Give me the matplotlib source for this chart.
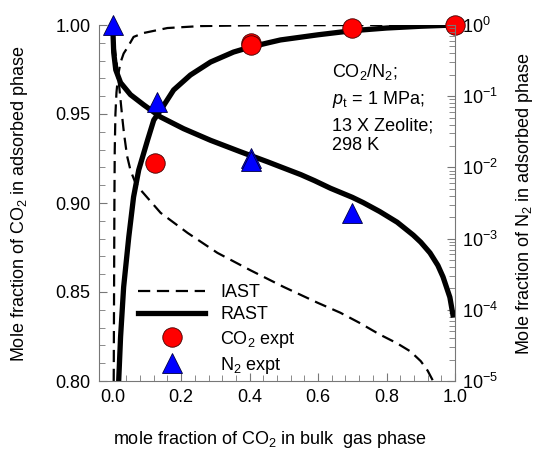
import matplotlib
matplotlib.use('Agg')
import matplotlib.pyplot as plt
from matplotlib.ticker import MultipleLocator, FormatStrFormatter, LogLocator, NullFormatter

plt.rcParams['font.family'] = ['Liberation Sans', 'DejaVu Sans']
plt.rcParams['mathtext.fontset'] = 'custom'
plt.rcParams['mathtext.rm'] = 'Liberation Sans'
plt.rcParams['mathtext.it'] = 'Liberation Sans:italic'
plt.rcParams['font.size'] = 13

# IAST, CO2 in adsorbed phase (left axis)
iast_co2_x = [0.003, 0.004, 0.005, 0.006, 0.008, 0.011, 0.016, 0.023, 0.032, 0.044, 0.061,
              0.09, 0.16, 0.257, 0.4, 0.6, 0.8, 1.0]
iast_co2_y = [0.80, 0.85, 0.90, 0.93, 0.95, 0.962, 0.972, 0.979, 0.984, 0.9876, 0.9933,
              0.9955, 0.9983, 0.9994, 0.9998, 0.9999, 1.0, 1.0]

# RAST, CO2 in adsorbed phase (left axis)
rast_co2_x = [0.0175, 0.023, 0.032, 0.047, 0.061, 0.076, 0.102, 0.120, 0.146, 0.178, 0.227,
              0.286, 0.353, 0.402, 0.452, 0.49, 0.60, 0.70, 0.80, 0.90, 1.0]
rast_co2_y = [0.80, 0.8247, 0.8528, 0.8809, 0.9034, 0.9185, 0.9354, 0.9466, 0.9539, 0.9635,
              0.9719, 0.9792, 0.9848, 0.9876, 0.9899, 0.9916, 0.9945, 0.9968, 0.9983, 0.9993, 1.0]

# IAST, N2 in adsorbed phase (right axis)
iast_n2_x = [0.0, 0.003, 0.008, 0.012, 0.017, 0.021, 0.025, 0.029, 0.033, 0.042, 0.052, 0.065,
             0.082, 0.14, 0.219, 0.306, 0.402, 0.499, 0.598, 0.665, 0.72, 0.78, 0.83, 0.87,
             0.90, 0.92, 0.936]
iast_n2_y = [1.0, 0.63, 0.40, 0.28, 0.17, 0.11, 0.07, 0.045, 0.030, 0.0145, 0.0091, 0.0063,
             0.0048, 0.0023, 0.0012, 6.3e-4, 3.6e-4, 2.1e-4, 1.26e-4, 9.1e-5, 6.6e-5, 4.5e-5,
             3.4e-5, 2.6e-5, 1.9e-5, 1.4e-5, 1.0e-5]

# RAST, N2 in adsorbed phase (right axis)
rast_n2_x = [0.0, 0.003, 0.009, 0.023, 0.052, 0.090, 0.140, 0.207, 0.286, 0.373, 0.452, 0.49,
             0.55, 0.59, 0.636, 0.70, 0.732, 0.78, 0.831, 0.878, 0.90, 0.927, 0.95, 0.965,
             0.985, 0.994]
rast_n2_y = [1.0, 0.41, 0.234, 0.155, 0.105, 0.076, 0.051, 0.035, 0.024, 0.0166, 0.012,
             0.0102, 0.0079, 0.0065, 0.0051, 0.0038, 0.0032, 0.0024, 0.0017, 0.00112,
             8.9e-4, 6.3e-4, 4.2e-4, 2.9e-4, 1.5e-4, 8.5e-5]

# experiments
co2_expt_x = [0.125, 0.405, 0.405, 0.70, 1.0]
co2_expt_y = [0.9225, 0.990, 0.9887, 0.9983, 1.0]
n2_expt_x = [0.0, 0.13, 0.405, 0.405, 0.70]
n2_expt_y = [1.0, 0.084, 0.0135, 0.0123, 0.0023]

fig = plt.figure(figsize=(5.37, 4.51), dpi=100)
ax = fig.add_axes([99/537, 1 - 381/451, 356/537, 356/451])
ax2 = ax.twinx()

l1, = ax.plot(iast_co2_x, iast_co2_y, 'k--', lw=1.6, dashes=(5.5, 3), label='IAST')
l2, = ax.plot(rast_co2_x, rast_co2_y, 'k-', lw=3.8, label='RAST')
m1, = ax.plot(co2_expt_x, co2_expt_y, 'o', ms=14, mfc='#FF0000', mec='#400000', mew=0.6,
              ls='none', zorder=5, label='CO$_2$ expt', clip_on=False)

ax2.plot(iast_n2_x, iast_n2_y, 'k--', lw=1.6, dashes=(5.5, 3))
ax2.plot(rast_n2_x, rast_n2_y, 'k-', lw=3.8)
m2, = ax2.plot(n2_expt_x, n2_expt_y, '^', ms=14, mfc='#0000FF', mec='#000040', mew=0.6,
               ls='none', zorder=5, label='N$_2$ expt', clip_on=False)

ax.set_xlim(-0.04, 1.0)
ax.set_ylim(0.80, 1.00)
ax2.set_yscale('log')
ax2.set_ylim(1e-5, 1.0)

ax.xaxis.set_major_locator(MultipleLocator(0.2))
ax.xaxis.set_minor_locator(MultipleLocator(0.04))
ax.xaxis.set_major_formatter(FormatStrFormatter('%.1f'))
ax.yaxis.set_major_locator(MultipleLocator(0.05))
ax.yaxis.set_minor_locator(MultipleLocator(0.01))
ax.yaxis.set_major_formatter(FormatStrFormatter('%.2f'))
ax2.yaxis.set_major_locator(LogLocator(base=10, numticks=10))
ax2.yaxis.set_minor_locator(LogLocator(base=10, subs=range(2, 10), numticks=10))
ax2.yaxis.set_minor_formatter(NullFormatter())

spine_col = '#777777'
for a in (ax, ax2):
    a.spines['top'].set_visible(False)
    for s in a.spines.values():
        s.set_color(spine_col)
ax.spines['right'].set_visible(False)
ax2.spines['left'].set_visible(False)
ax2.spines['bottom'].set_visible(False)

ax.tick_params(which='both', direction='in', color=spine_col, labelsize=13, top=False, right=False)
ax.tick_params(which='major', length=6, pad=6)
ax.tick_params(which='minor', length=4)
ax2.tick_params(which='both', direction='in', color=spine_col, labelsize=13)
ax2.tick_params(which='major', length=6, pad=5)
ax2.tick_params(which='minor', length=4)

ax.set_xlabel('mole fraction of CO$_2$ in bulk  gas phase', fontsize=13)
ax.set_ylabel('Mole fraction of CO$_2$ in adsorbed phase', fontsize=13)
ax2.set_ylabel('Mole fraction of N$_2$ in adsorbed phase', fontsize=13)
ax.xaxis.set_label_coords(0.48, -0.135)
ax.yaxis.set_label_coords(-0.194, 0.5)
ax2.yaxis.set_label_coords(1.165, 0.5)

# conditions text
fig.text(332/537, 1 - 77/451, 'CO$_2$/N$_2$;', fontsize=13, va='baseline')
fig.text(332/537, 1 - 104/451, '$p$$_\\mathrm{t}$ = 1 MPa;', fontsize=13, va='baseline')
fig.text(332/537, 1 - 130/451, '13 X Zeolite;', fontsize=13, va='baseline')
fig.text(332/537, 1 - 150/451, '298 K', fontsize=13, va='baseline')

leg = ax2.legend([l1, l2, m1, m2], ['IAST', 'RAST', 'CO$_2$ expt', 'N$_2$ expt'],
                 loc='lower left', bbox_to_anchor=(0.09, -0.005), frameon=False,
                 handlelength=3.7, handletextpad=0.85, labelspacing=0.28, fontsize=13,
                 borderaxespad=0)

fig.savefig('out.png', dpi=100)
